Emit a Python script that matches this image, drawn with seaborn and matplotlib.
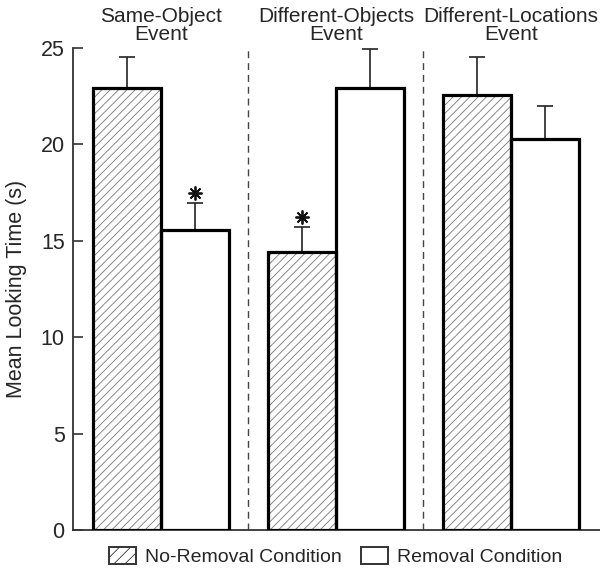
import pandas as pd
import matplotlib
matplotlib.use("Agg")
import matplotlib.pyplot as plt
from matplotlib.patches import Patch
import seaborn as sns

# data
events = ["Same-Object\nEvent", "Different-Objects\nEvent", "Different-Locations\nEvent"]
conditions = ["No-Removal Condition", "Removal Condition"]
no_removal = [22.9, 14.4, 22.55]
removal = [15.55, 22.95, 20.3]
no_removal_err = [1.65, 1.3, 2.0]
removal_err = [1.4, 2.0, 1.7]
star_y = {("Removal Condition", 0): 17.5, ("No-Removal Condition", 1): 16.25}

df = pd.DataFrame({
    "event": events * 2,
    "condition": [conditions[0]] * 3 + [conditions[1]] * 3,
    "time": no_removal + removal,
    "err": no_removal_err + removal_err,
})

sns.set_style("white")
plt.rcParams["font.family"] = ["Liberation Sans", "DejaVu Sans"]
plt.rcParams["hatch.linewidth"] = 0.6

fig = plt.figure(figsize=(6, 5.7), dpi=100)
ax = fig.add_axes([0.1217, 0.0702, 0.8783, 0.8456])

white = {c: "white" for c in conditions}
black = {c: "black" for c in conditions}

# filled bars (hatch only for the no-removal condition)
sns.barplot(data=df, x="event", y="time", hue="condition", hue_order=conditions,
            palette=white, width=0.78, gap=0, errorbar=None, legend=False,
            edgecolor="#777777", linewidth=0, ax=ax, zorder=2)
for p in ax.containers[0]:
    p.set_hatch("////")

# thick black outlines on top
sns.barplot(data=df, x="event", y="time", hue="condition", hue_order=conditions,
            palette=black, width=0.78, gap=0, errorbar=None, legend=False,
            fill=False, linewidth=2.3, ax=ax, zorder=3)

# upward-only error bars
for cont, cond in zip(ax.containers[:2], conditions):
    sub = df[df["condition"] == cond]
    xs = [p.get_x() + p.get_width() / 2 for p in cont]
    ax.errorbar(xs, sub["time"], yerr=[[0] * len(sub), sub["err"]], fmt="none",
                ecolor="#222222", elinewidth=1.2, capsize=5.5, capthick=1.2, zorder=1)

# significance asterisks
for (cond, i), y in star_y.items():
    cont = ax.containers[conditions.index(cond)]
    p = cont[i]
    ax.plot(p.get_x() + p.get_width() / 2, y, marker=(8, 2, 0), ms=10,
            mew=1.3, color="#111111", zorder=4)

# dashed separators between events
for xv in [0.5, 1.5]:
    ax.plot([xv, xv], [0, 25], ls=(0, (5, 3.5)), color="#444444", lw=1.0, zorder=1)

# event titles above the axes
for i, ev in enumerate(events):
    ax.annotate(ev, xy=(i, 1.0), xycoords=("data", "axes fraction"),
                xytext=(0, 3), textcoords="offset points", ha="center", va="bottom",
                fontsize=15, linespacing=0.95, annotation_clip=False)

ax.set_xlim(-0.503, 2.51)
ax.set_ylim(0, 25)
ax.set_yticks([0, 5, 10, 15, 20, 25])
ax.set_xticks([])
ax.set_xlabel("")
ax.set_ylabel("Mean Looking Time (s)", fontsize=15.5, labelpad=10)
ax.tick_params(axis="y", direction="in", length=7, width=1.2, color="#333333",
               labelsize=15.5, pad=6, left=True)
for s in ["top", "right"]:
    ax.spines[s].set_visible(False)
for s in ["left", "bottom"]:
    ax.spines[s].set_linewidth(1.3)
    ax.spines[s].set_color("#333333")

handles = [
    Patch(facecolor="white", edgecolor="#333333", hatch="///", linewidth=1.4),
    Patch(facecolor="white", edgecolor="#333333", linewidth=1.4),
]
fig.legend(handles, conditions, loc="center", bbox_to_anchor=(0.56, 0.024), ncol=2,
           frameon=False, fontsize=14, handlelength=1.35, handleheight=1.0,
           handletextpad=0.5, columnspacing=1.0)

fig.savefig("out.png", dpi=100)
